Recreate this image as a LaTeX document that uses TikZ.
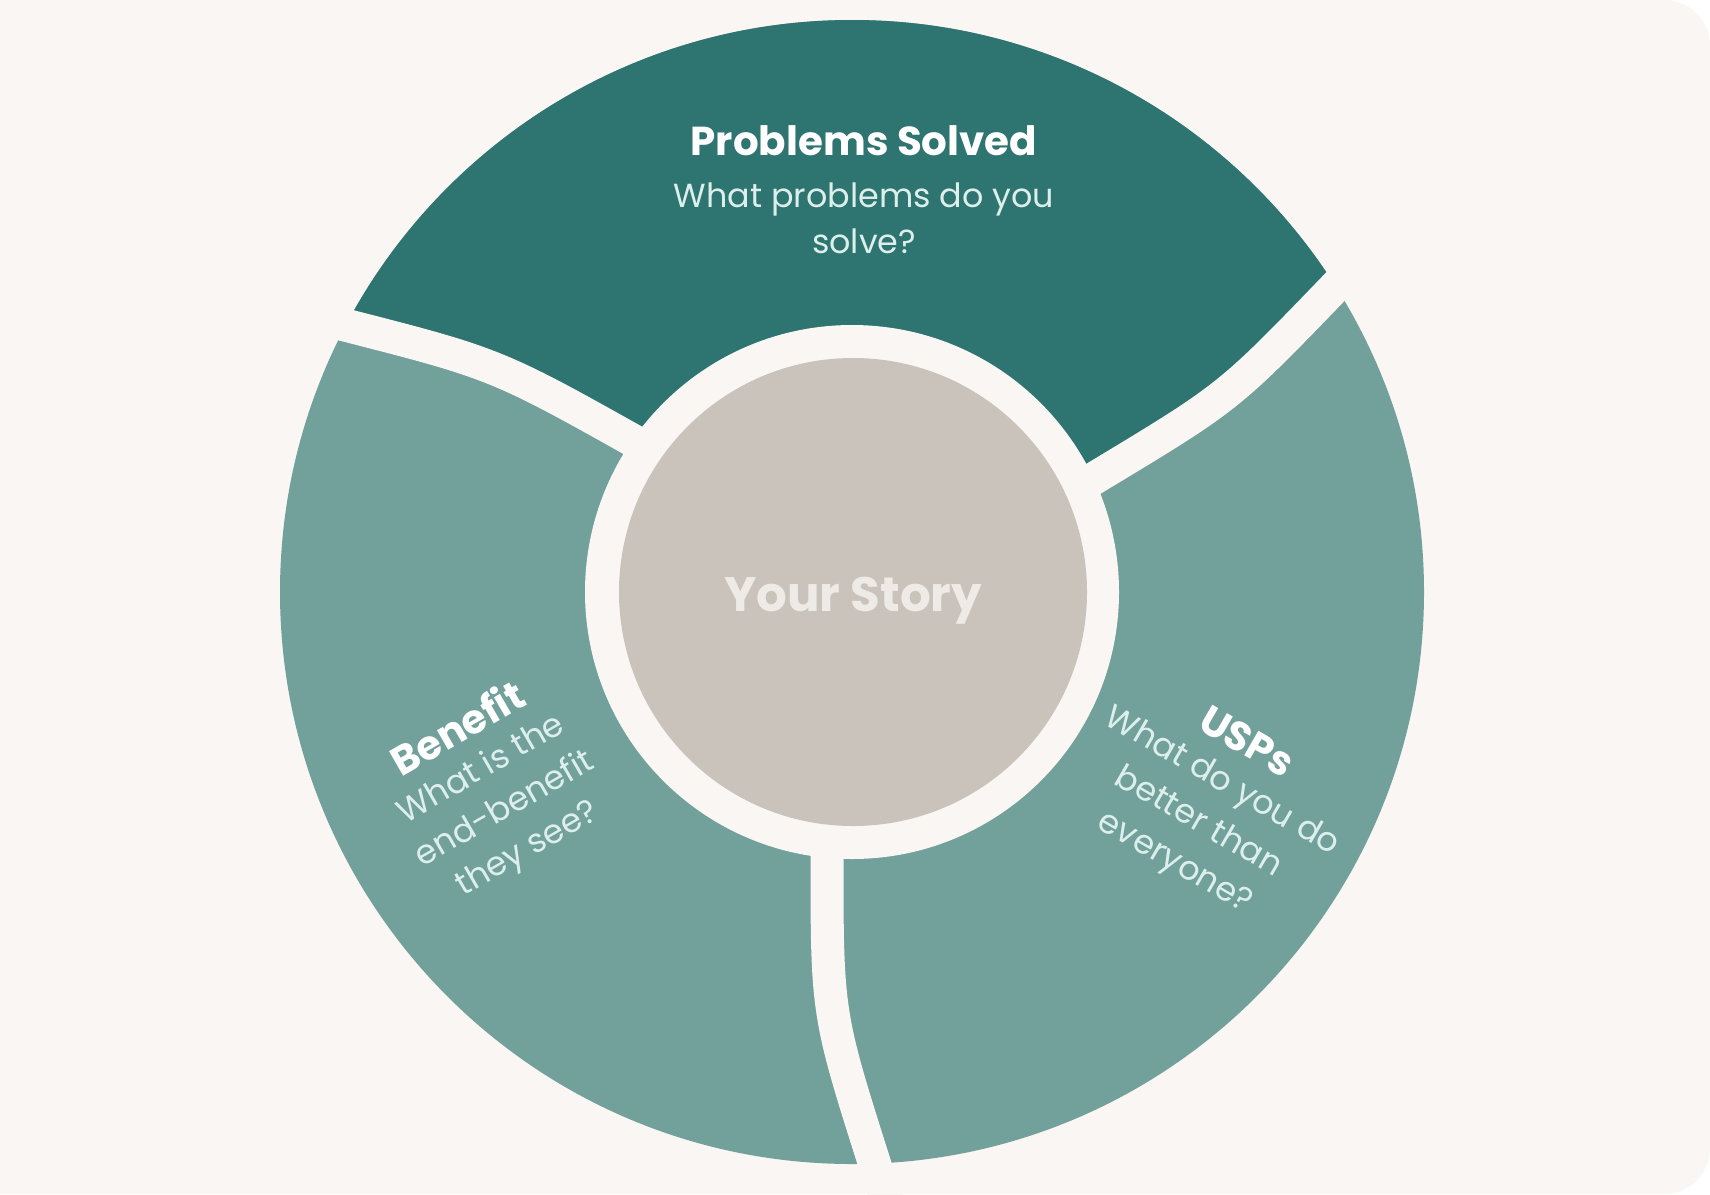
\documentclass[tikz,border=0pt]{standalone}
\usepackage{fontspec}
\setmainfont{Poppins}
\definecolor{bg}{HTML}{F9F6F3}
\definecolor{darkteal}{HTML}{2E7470}
\definecolor{lightteal}{HTML}{72A09A}
\definecolor{storygray}{HTML}{C9C3BC}
\definecolor{subtxt}{HTML}{DDEFEC}
\definecolor{storytxt}{HTML}{EEEAE6}
\begin{document}
\begin{tikzpicture}[x=0.02cm,y=-0.02cm,
  titletext/.style={font=\bfseries\fontsize{23}{27}\selectfont, text=white, align=center, inner sep=0pt},
  subtext/.style={font=\fontsize{19}{26.2}\selectfont, text=subtxt, align=center, inner sep=0pt},
  gapline/.style={draw=bg, line width=0.66cm, line cap=butt}]
\useasboundingbox (0,0) rectangle (1710,1194);
\fill[white] (0,0) rectangle (1710,1194);
\fill[bg, rounded corners=0.92cm] (-100,0) rectangle (1710,1194);
% outer disc
\fill[lightteal] (852,592) circle[radius=572];
% problems segment
\begin{scope}
\clip (852,592) circle[radius=572];
\fill[darkteal] (306,315) -- (345,325) .. controls (497,364) .. (635,440) -- (852,592) -- (1098,476) .. controls (1229,397) .. (1335,287) -- (1363,258) -- (1420,0) -- (250,0) -- cycle;
\end{scope}
% gaps
\draw[gapline] (306,315) -- (345,325) .. controls (497,364) .. (650,450);
\draw[gapline] (1085,484) -- (1098,476) .. controls (1229,397) .. (1335,287) -- (1363,258);
\draw[gapline] (826,838) -- (827,855) .. controls (827,1014) .. (875,1165) -- (887,1203);
% centre
\fill[bg] (852,592) circle[radius=267];
\fill[storygray] (853,592) circle[radius=234];
\node[font=\bfseries\fontsize{27.5}{32}\selectfont, text=storytxt, inner sep=0pt, anchor=base] (story) at (853,611) {Your Story};
% problems text
\node[titletext, anchor=base] (pstitle) at (864,155) {Problems Solved};
\node[subtext] (psq) at (864,218) {What problems do you\\solve?};
% benefit text
\node[titletext, rotate=30] (bentitle) at (457,727) {Benefit};
\node[subtext, rotate=30] (benq) at (505,810) {What is the\\end-benefit\\they see?};
% usps text
\node[titletext, rotate=-30] (usptitle) at (1247,741) {USPs};
\node[subtext, font=\fontsize{19}{26.7}\selectfont, rotate=-30] (uspq) at (1198,823) {What do you do\\better than\\everyone?};
\end{tikzpicture}
\end{document}
